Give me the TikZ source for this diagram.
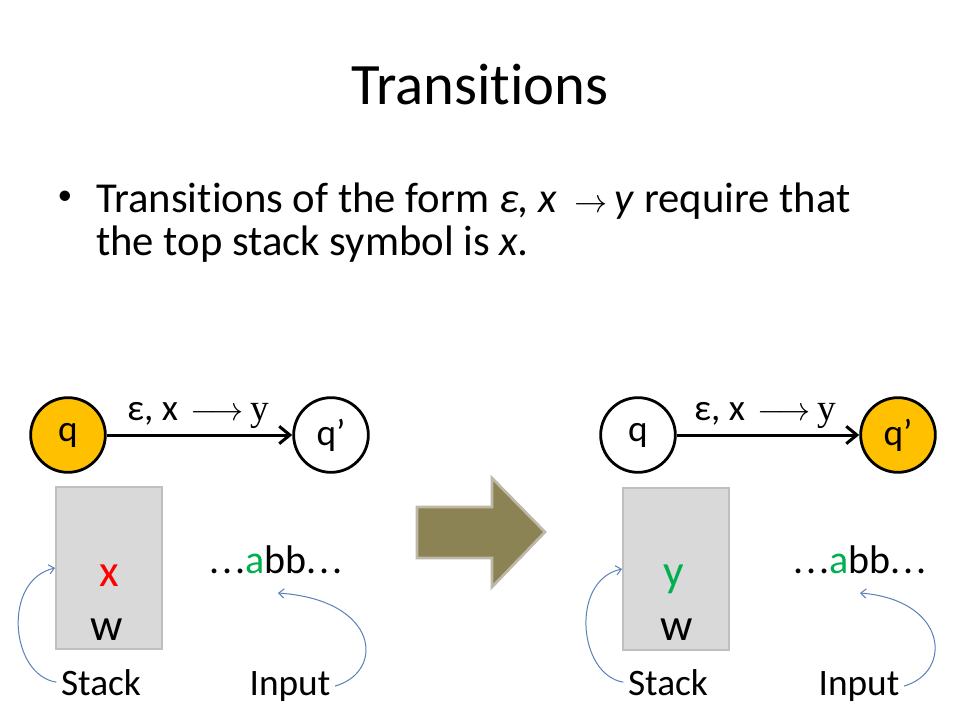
\documentclass[tikz,border=0pt]{standalone}
\usepackage{fontspec}
\setmainfont[Ligatures=NoCommon]{Carlito}
\newfontfamily\serifr{Liberation Serif}
\usetikzlibrary{arrows.meta}
\definecolor{qorange}{HTML}{FFC000}
\definecolor{stackfill}{HTML}{D9D9D9}
\definecolor{stackline}{HTML}{BFBFBF}
\definecolor{symred}{HTML}{FF0000}
\definecolor{symgreen}{HTML}{00B050}
\definecolor{curveblue}{HTML}{5B7FB9}
\definecolor{bigarrowfill}{HTML}{8C8354}
\definecolor{bigarrowline}{HTML}{BDB8A8}
\tikzset{
  state/.style={circle, draw=black, line width=2.1pt, minimum size=56pt, inner sep=0pt,
                font=\fontsize{28}{32}\selectfont},
  active/.style={state, fill=qorange},
  idle/.style={state, fill=white},
  trans/.style={line width=2.25pt, -{Straight Barb[length=8pt,width=13pt]}},
  translabel/.style={anchor=base, inner sep=0pt, font=\fontsize{28}{32}\selectfont},
  stackbox/.style={draw=stackline, fill=stackfill, line width=1.5pt,
                   minimum width=79.5pt, minimum height=121.5pt, inner sep=0pt},
  symtext/.style={anchor=base, inner sep=0pt, font=\fontsize{34}{38}\selectfont},
  plaintext/.style={anchor=base, font=\fontsize{28}{32}\selectfont},
  tapestyle/.style={anchor=base, font=\fontsize{30}{34}\selectfont},
  bodytext/.style={anchor=base west, inner sep=0pt, font=\fontsize{32}{36}\selectfont},
  pointer/.style={draw=curveblue, line width=0.75pt, -{Straight Barb[length=4pt,width=7pt]}},
}
\newcommand{\translab}{ε, x\,\,{\fontsize{24}{24}\selectfont$\longrightarrow$}\,{\serifr y}}
\newcommand{\tapetext}{.\kern2pt.\kern2pt.{\color{symgreen}a}bb.\kern2pt.\kern2pt.}
\newcommand{\statetext}[1]{\raisebox{-4pt}{#1}}
\begin{document}
\begin{tikzpicture}[x=0.75pt, y=-0.75pt]
\useasboundingbox (0,0) rectangle (960,720);

% title
\node[anchor=base, font=\fontsize{44}{50}\selectfont] (title) at (480,105) {Transitions};

% bullet
\node[inner sep=0pt, font=\fontsize{22}{26}\selectfont] (bul) at (65,198) {•};
\node[bodytext] (line1) at (96,213)
  {Transitions of the form \textit{ε, x} \,{$\rightarrow$}\,\textit{y} require that};
\node[bodytext] (line2) at (96,256)
  {the top stack symbol is \textit{x.}};

% ---------- left configuration ----------
\node[active] (qa) at (68,435) {\statetext{q}};
\node[idle] (qpa) at (331,435) {\statetext{q’}};
\draw[trans] (qa) -- (qpa);
\node[translabel] (laba) at (198,420) {\translab};

\node[stackbox] (sta) at (109,568) {};
\node[symtext, text=symred] (xa) at (109,586) {x};
\node[symtext] (wa) at (107,640) {w};

\node[tapestyle] (tapea) at (276,573) {\tapetext};
\node[plaintext] (lsa) at (101,695) {Stack};
\node[plaintext] (lia) at (290,695) {Input};
\coordinate (ina) at (278,593);
\draw[pointer] (lsa.west) .. controls (10,675) and (2,580) .. (sta.west);
\draw[pointer] (lia.east) .. controls (385,672) and (380,600) .. (ina);

% ---------- big arrow ----------
\draw[fill=bigarrowfill, draw=bigarrowline, line width=2pt, line join=miter]
  (417,507) -- (492,507) -- (492,478) -- (545,532) -- (492,587) -- (492,558) -- (417,558) -- cycle;

% ---------- right configuration ----------
\node[idle] (qb) at (638,435) {\statetext{q}};
\node[active] (qpb) at (898,435) {\statetext{q’}};
\draw[trans] (qb) -- (qpb);
\node[translabel] (labb) at (765,420) {\translab};

\node[stackbox] (stb) at (676,569) {};
\node[symtext, text=symgreen] (yb) at (674,586) {y};
\node[symtext] (wb) at (677,640) {w};

\node[tapestyle] (tapeb) at (860,573) {\tapetext};
\node[plaintext] (lsb) at (668,695) {Stack};
\node[plaintext] (lib) at (859,695) {Input};
\coordinate (inb) at (860,593);
\draw[pointer] (lsb.west) .. controls (578,675) and (570,580) .. (stb.west);
\draw[pointer] (lib.east) .. controls (953,672) and (948,600) .. (inb);
\end{tikzpicture}
\end{document}
